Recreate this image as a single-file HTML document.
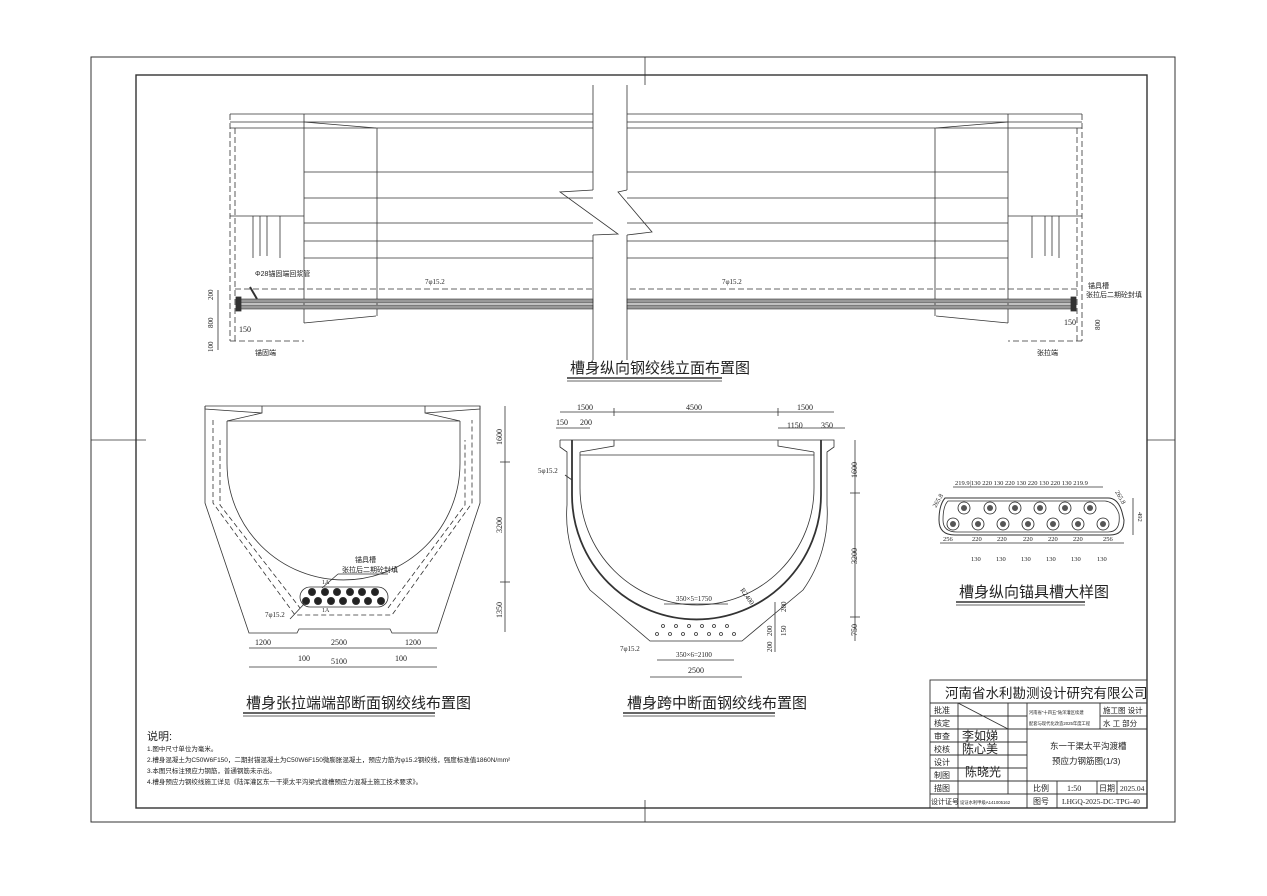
<!DOCTYPE html>
<html><head><meta charset="utf-8"><style>
html,body{margin:0;padding:0;background:#fff;}
svg{display:block;}
text{font-family:"Liberation Serif","Noto Serif CJK SC","Noto Sans CJK SC",serif;fill:#222;stroke:none;}
.c{font-family:"Liberation Sans","Noto Sans CJK SC",sans-serif;}
</style></head><body>
<svg width="1267" height="896" viewBox="0 0 1267 896" xmlns="http://www.w3.org/2000/svg" stroke="#333" fill="none" stroke-width="0.8">
<rect x="0" y="0" width="1267" height="896" fill="#fff" stroke="none"/>
<rect x="91" y="57" width="1084" height="765" stroke-width="1"/>
<rect x="136" y="75" width="1011" height="733" stroke-width="1.4"/>
<line x1="645" y1="57" x2="645" y2="85"/><line x1="645" y1="800" x2="645" y2="822"/>
<line x1="91" y1="440" x2="146" y2="440"/><line x1="1147" y1="440" x2="1175" y2="440"/>

<g>
<line x1="230" y1="114" x2="593" y2="114"/><line x1="230" y1="122" x2="593" y2="122"/><line x1="230" y1="128" x2="593" y2="128"/>
<line x1="230" y1="114" x2="230" y2="341" stroke-dasharray="6,3"/>
<line x1="235" y1="128" x2="235" y2="341" stroke-dasharray="6,3"/>
<line x1="304" y1="114" x2="304" y2="323"/>
<line x1="304" y1="122" x2="376" y2="128"/>
<line x1="377" y1="128" x2="377" y2="316"/>
<line x1="304" y1="172" x2="593" y2="172"/><line x1="304" y1="198" x2="593" y2="198"/><line x1="304" y1="223" x2="593" y2="223"/><line x1="304" y1="241" x2="593" y2="241"/><line x1="304" y1="258" x2="593" y2="258"/>
<line x1="230" y1="216" x2="304" y2="216"/>
<line x1="253" y1="216" x2="253" y2="258"/><line x1="260" y1="216" x2="260" y2="256"/><line x1="267" y1="216" x2="267" y2="256"/><line x1="280" y1="216" x2="280" y2="258"/>
<line x1="235" y1="289" x2="593" y2="289" stroke-dasharray="6,3"/>
<rect x="237" y="299" width="356" height="4" fill="#999" stroke-width="0.6"/>
<rect x="237" y="305" width="356" height="4" fill="#999" stroke-width="0.6"/>
<rect x="236" y="297" width="5" height="14" fill="#333"/>
<line x1="304" y1="323" x2="376" y2="316"/>
<line x1="230" y1="341" x2="304" y2="341" stroke-dasharray="6,3"/>
<line x1="250" y1="287" x2="257" y2="299" stroke-width="2"/>
<line x1="218" y1="290" x2="218" y2="350"/>
<text x="213" y="300" font-size="7" transform="rotate(-90 213 300)">200</text>
<text x="213" y="328" font-size="7" transform="rotate(-90 213 328)">800</text>
<text x="213" y="352" font-size="7" transform="rotate(-90 213 352)">100</text>
<text x="239" y="332" font-size="8">150</text>
<text x="255" y="276" font-size="7" class="c">Φ28锚固端回浆管</text>
<text x="425" y="284" font-size="7">7φ15.2</text>
<text x="255" y="355" font-size="7" class="c">锚固端</text>
<line x1="593" y1="85" x2="593" y2="190"/><line x1="593" y1="235" x2="593" y2="360"/>
<polyline points="593,190 560,192 618,234 593,235"/>
</g>
<g transform="translate(1312,0) scale(-1,1)">
<line x1="230" y1="114" x2="685" y2="114"/><line x1="230" y1="122" x2="685" y2="122"/><line x1="230" y1="128" x2="685" y2="128"/>
<line x1="230" y1="114" x2="230" y2="341" stroke-dasharray="6,3"/>
<line x1="235" y1="128" x2="235" y2="341" stroke-dasharray="6,3"/>
<line x1="304" y1="114" x2="304" y2="323"/>
<line x1="304" y1="122" x2="376" y2="128"/>
<line x1="377" y1="128" x2="377" y2="316"/>
<line x1="304" y1="172" x2="685" y2="172"/><line x1="304" y1="198" x2="685" y2="198"/><line x1="304" y1="223" x2="685" y2="223"/><line x1="304" y1="241" x2="685" y2="241"/><line x1="304" y1="258" x2="685" y2="258"/>
<line x1="230" y1="216" x2="304" y2="216"/>
<line x1="253" y1="216" x2="253" y2="258"/><line x1="260" y1="216" x2="260" y2="256"/><line x1="267" y1="216" x2="267" y2="256"/><line x1="280" y1="216" x2="280" y2="258"/>
<line x1="235" y1="289" x2="685" y2="289" stroke-dasharray="6,3"/>
<rect x="237" y="299" width="448" height="4" fill="#999" stroke-width="0.6"/>
<rect x="237" y="305" width="448" height="4" fill="#999" stroke-width="0.6"/>
<rect x="236" y="297" width="5" height="14" fill="#333"/>
<line x1="304" y1="323" x2="376" y2="316"/>
<line x1="230" y1="341" x2="304" y2="341" stroke-dasharray="6,3"/>
</g>
<line x1="627" y1="85" x2="627" y2="190"/><line x1="627" y1="235" x2="627" y2="360"/>
<polyline points="627,190 618,192 652,232 627,235"/>
<text x="722" y="284" font-size="7">7φ15.2</text>
<text x="1088" y="288" font-size="7" class="c">锚具槽</text>
<text x="1086" y="297" font-size="7" class="c">张拉后二期砼封填</text>
<text x="1064" y="325" font-size="8">150</text>
<text x="1100" y="330" font-size="7" transform="rotate(-90 1100 330)">800</text>
<text x="1037" y="355" font-size="7" class="c">张拉端</text>
<text x="570" y="373" font-size="15" class="c">槽身纵向钢绞线立面布置图</text>
<line x1="567" y1="378" x2="722" y2="378" stroke-width="1.4"/><line x1="567" y1="381" x2="722" y2="381"/>

<g>
<polyline points="205,406 480,406 480,503 437,633 392,633 390,629 299,629 297,633 249,633 205,503 205,406"/>
<polyline points="205,406 205,409 262,413 262,406"/>
<polyline points="480,406 480,409 425,413 425,406"/>
<line x1="262" y1="413" x2="227" y2="421"/><line x1="425" y1="413" x2="460" y2="421"/>
<line x1="227" y1="421" x2="460" y2="421"/>
<path d="M227,421 L227,463.5 A116.5,116.5 0 0 0 460,463.5 L460,421"/>
<path d="M213,420 L213,503 L295,615 L392,615 L472,503 L472,420" stroke-dasharray="5,3"/>
<path d="M220,440 L220,505 L300,608 M388,608 L465,505 L465,440" stroke-dasharray="5,3"/>
<rect x="300" y="587" width="88" height="20" rx="10"/>
<g fill="#222">
<circle cx="312" cy="592" r="3.6"/><circle cx="325" cy="592" r="3.6"/><circle cx="337" cy="592" r="3.6"/><circle cx="350" cy="592" r="3.6"/><circle cx="362" cy="592" r="3.6"/><circle cx="375" cy="592" r="3.6"/>
<circle cx="306" cy="601" r="3.6"/><circle cx="318" cy="601" r="3.6"/><circle cx="331" cy="601" r="3.6"/><circle cx="343" cy="601" r="3.6"/><circle cx="356" cy="601" r="3.6"/><circle cx="368" cy="601" r="3.6"/><circle cx="381" cy="601" r="3.6"/>
</g>
<text x="355" y="562" font-size="7" class="c">锚具槽</text>
<text x="342" y="572" font-size="7" class="c">张拉后二期砼封填</text>
<line x1="338" y1="574" x2="388" y2="574"/><line x1="338" y1="574" x2="322" y2="588"/>
<text x="322" y="584" font-size="6">1A</text><text x="322" y="612" font-size="6">1A</text>
<text x="265" y="617" font-size="7">7φ15.2</text>
<line x1="290" y1="619" x2="305" y2="603"/>
<line x1="505" y1="406" x2="505" y2="632"/>
<line x1="500" y1="462" x2="510" y2="462"/><line x1="500" y1="582" x2="510" y2="582"/>
<text x="502" y="445" font-size="8" transform="rotate(-90 502 445)">1600</text>
<text x="502" y="533" font-size="8" transform="rotate(-90 502 533)">3200</text>
<text x="502" y="618" font-size="8" transform="rotate(-90 502 618)">1350</text>
<line x1="249" y1="648" x2="437" y2="648"/>
<line x1="249" y1="667" x2="437" y2="667"/>
<text x="255" y="645" font-size="8">1200</text><text x="331" y="645" font-size="8">2500</text><text x="405" y="645" font-size="8">1200</text>
<text x="298" y="661" font-size="8">100</text><text x="395" y="661" font-size="8">100</text>
<text x="331" y="664" font-size="8">5100</text>
<text x="246" y="708" font-size="15" class="c">槽身张拉端端部断面钢绞线布置图</text>
<line x1="243" y1="713" x2="435" y2="713" stroke-width="1.4"/><line x1="243" y1="716" x2="435" y2="716"/>
</g>

<g>
<polyline points="560,440 834,440 834,447 827,452 827,505"/>
<polyline points="560,440 560,447 567,452 567,505"/>
<path d="M567,505 A132,132 0 0 0 590,590 L650,641 L742,641 L803,590 A132,132 0 0 0 827,505"/>
<line x1="580" y1="455" x2="814" y2="455"/>
<polyline points="614,440 614,446 580,452"/>
<polyline points="778,440 778,446 814,452"/>
<path d="M580,452 L580,488 A117,117 0 0 0 814,488 L814,452"/>
<path d="M572,440 L572,495 A124.5,124.5 0 0 0 821,495 L821,440" stroke-width="1.8"/>
<g>
<circle cx="663" cy="626" r="1.5"/><circle cx="676" cy="626" r="1.5"/><circle cx="689" cy="626" r="1.5"/><circle cx="702" cy="626" r="1.5"/><circle cx="714" cy="626" r="1.5"/><circle cx="727" cy="626" r="1.5"/>
<circle cx="657" cy="634" r="1.5"/><circle cx="670" cy="634" r="1.5"/><circle cx="683" cy="634" r="1.5"/><circle cx="696" cy="634" r="1.5"/><circle cx="709" cy="634" r="1.5"/><circle cx="721" cy="634" r="1.5"/><circle cx="734" cy="634" r="1.5"/>
</g>
<line x1="560" y1="412" x2="834" y2="412"/><line x1="614" y1="408" x2="614" y2="416"/><line x1="778" y1="408" x2="778" y2="416"/>
<text x="577" y="410" font-size="8">1500</text><text x="686" y="410" font-size="8">4500</text><text x="797" y="410" font-size="8">1500</text>
<line x1="556" y1="428" x2="590" y2="428"/><line x1="778" y1="428" x2="845" y2="428"/>
<text x="556" y="425" font-size="8">150</text><text x="580" y="425" font-size="8">200</text>
<text x="787" y="428" font-size="8">1150</text><text x="821" y="428" font-size="8">350</text>
<line x1="855" y1="440" x2="855" y2="641"/><line x1="850" y1="493" x2="860" y2="493"/><line x1="850" y1="617" x2="860" y2="617"/>
<text x="857" y="478" font-size="8" transform="rotate(-90 857 478)">1600</text>
<text x="857" y="564" font-size="8" transform="rotate(-90 857 564)">3200</text>
<text x="857" y="636" font-size="8" transform="rotate(-90 857 636)">750</text>
<text x="538" y="473" font-size="7">5φ15.2</text>
<line x1="565" y1="475" x2="572" y2="480"/>
<text x="740" y="590" font-size="7" transform="rotate(55 740 590)">R2400</text>
<line x1="664" y1="604" x2="728" y2="604"/>
<text x="676" y="601" font-size="7">350×5=1750</text>
<text x="620" y="651" font-size="7">7φ15.2</text>
<line x1="657" y1="660" x2="734" y2="660"/>
<text x="676" y="657" font-size="7">350×6=2100</text>
<line x1="650" y1="677" x2="742" y2="677"/>
<text x="688" y="673" font-size="8">2500</text>
<text x="786" y="612" font-size="7" transform="rotate(-90 786 612)">200</text>
<text x="786" y="636" font-size="7" transform="rotate(-90 786 636)">150</text>
<text x="772" y="636" font-size="7" transform="rotate(-90 772 636)">200</text>
<text x="772" y="652" font-size="7" transform="rotate(-90 772 652)">200</text>
<line x1="775" y1="602" x2="775" y2="652"/>
<text x="627" y="708" font-size="15" class="c">槽身跨中断面钢绞线布置图</text>
<line x1="623" y1="713" x2="775" y2="713" stroke-width="1.4"/><line x1="623" y1="716" x2="775" y2="716"/>
</g>

<g>
<path d="M945,498 L1108,498 Q1118,498 1122,512 L1124,520 Q1124,535 1110,535 L955,535 Q939,535 939,520 Q939,505 945,498 Z" stroke-width="1"/>
<path d="M948,501 L1105,501 Q1115,502 1119,514 Q1121,532 1108,532 L957,532 Q943,532 943,520 Q943,506 948,501 Z"/>
<g stroke="#222" fill="#fff">
<circle cx="964" cy="508" r="6"/><circle cx="990" cy="508" r="6"/><circle cx="1015" cy="508" r="6"/><circle cx="1040" cy="508" r="6"/><circle cx="1065" cy="508" r="6"/><circle cx="1090" cy="508" r="6"/>
<circle cx="953" cy="524" r="6"/><circle cx="978" cy="524" r="6"/><circle cx="1003" cy="524" r="6"/><circle cx="1028" cy="524" r="6"/><circle cx="1053" cy="524" r="6"/><circle cx="1078" cy="524" r="6"/><circle cx="1103" cy="524" r="6"/>
</g>
<g fill="#555" stroke="none">
<circle cx="964" cy="508" r="3"/><circle cx="990" cy="508" r="3"/><circle cx="1015" cy="508" r="3"/><circle cx="1040" cy="508" r="3"/><circle cx="1065" cy="508" r="3"/><circle cx="1090" cy="508" r="3"/>
<circle cx="953" cy="524" r="3"/><circle cx="978" cy="524" r="3"/><circle cx="1003" cy="524" r="3"/><circle cx="1028" cy="524" r="3"/><circle cx="1053" cy="524" r="3"/><circle cx="1078" cy="524" r="3"/><circle cx="1103" cy="524" r="3"/>
</g>
<line x1="953" y1="487" x2="1103" y2="487"/>
<text x="955" y="485" font-size="6.5">219.9|130 220 130 220 130 220 130 220 130 219.9</text>
<line x1="940" y1="543" x2="1124" y2="543"/>
<text x="943" y="541" font-size="6.5">256</text><text x="972" y="541" font-size="6.5">220</text><text x="997" y="541" font-size="6.5">220</text><text x="1023" y="541" font-size="6.5">220</text><text x="1048" y="541" font-size="6.5">220</text><text x="1073" y="541" font-size="6.5">220</text><text x="1103" y="541" font-size="6.5">256</text>
<text x="971" y="561" font-size="6.5">130</text><text x="996" y="561" font-size="6.5">130</text><text x="1021" y="561" font-size="6.5">130</text><text x="1046" y="561" font-size="6.5">130</text><text x="1071" y="561" font-size="6.5">130</text><text x="1097" y="561" font-size="6.5">130</text>
<line x1="1133" y1="498" x2="1133" y2="535"/>
<text x="1138" y="512" font-size="6.5" transform="rotate(90 1138 512)">492</text>
<text x="936" y="508" font-size="6.5" transform="rotate(-60 936 508)">265.8</text>
<text x="1115" y="492" font-size="6.5" transform="rotate(60 1115 492)">265.8</text>
<text x="959" y="597" font-size="15" class="c">槽身纵向锚具槽大样图</text>
<line x1="956" y1="602" x2="1085" y2="602" stroke-width="1.4"/><line x1="956" y1="605" x2="1085" y2="605"/>
</g>

<g>
<text x="147" y="740" font-size="11" class="c">说明:</text>
<text x="147" y="751" font-size="6.5" class="c">1.图中尺寸单位为毫米。</text>
<text x="147" y="762" font-size="6.5" class="c">2.槽身混凝土为C50W6F150，二期封锚混凝土为C50W6F150微膨胀混凝土，预应力筋为φ15.2钢绞线，强度标准值1860N/mm²</text>
<text x="147" y="773" font-size="6.5" class="c">3.本图只标注预应力钢筋，普通钢筋未示出。</text>
<text x="147" y="784" font-size="6.5" class="c">4.槽身预应力钢绞线施工详见《陆浑灌区东一干渠太平沟梁式渡槽预应力混凝土施工技术要求》。</text>
</g>

<g stroke-width="0.9">
<rect x="930" y="680" width="217" height="128"/>
<line x1="930" y1="703" x2="1147" y2="703"/>
<line x1="930" y1="716" x2="1027" y2="716"/><line x1="930" y1="729" x2="1147" y2="729"/>
<line x1="930" y1="742" x2="1027" y2="742"/><line x1="930" y1="755" x2="1027" y2="755"/>
<line x1="930" y1="768" x2="1027" y2="768"/><line x1="930" y1="781" x2="1147" y2="781"/>
<line x1="930" y1="794" x2="1147" y2="794"/>
<line x1="958" y1="703" x2="958" y2="808"/>
<line x1="1008" y1="703" x2="1008" y2="794"/>
<line x1="1027" y1="703" x2="1027" y2="808"/>
<line x1="1100" y1="703" x2="1100" y2="729"/>
<line x1="1100" y1="716" x2="1147" y2="716"/>
<line x1="1057" y1="781" x2="1057" y2="808"/>
<line x1="1097" y1="781" x2="1097" y2="794"/><line x1="1117" y1="781" x2="1117" y2="794"/>
<line x1="958" y1="703" x2="1008" y2="729"/>
</g>
<g>
<text x="945" y="698" font-size="13.5" class="c">河南省水利勘测设计研究有限公司</text>
<text x="934" y="713" font-size="8" class="c">批准</text><text x="934" y="726" font-size="8" class="c">核定</text><text x="934" y="739" font-size="8" class="c">审查</text><text x="934" y="752" font-size="8" class="c">校核</text><text x="934" y="765" font-size="8" class="c">设计</text><text x="934" y="778" font-size="8" class="c">制图</text><text x="934" y="791" font-size="8" class="c">描图</text>
<text x="931" y="804" font-size="7" class="c">设计证号</text>
<text x="960" y="804" font-size="4.3" class="c">设证水利甲级A141005162</text>
<text x="1029" y="714" font-size="4.3" class="c">河南省"十四五"陆浑灌区续建</text>
<text x="1029" y="725" font-size="4.3" class="c">配套与现代化改造2025年度工程</text>
<text x="1103" y="713" font-size="7.5" class="c">施工图  设计</text>
<text x="1103" y="726" font-size="7.5" class="c">水 工  部分</text>
<text x="1050" y="749" font-size="8.5" class="c">东一干渠太平沟渡槽</text>
<text x="1052" y="764" font-size="8.5" class="c">预应力钢筋图(1/3)</text>
<text x="1033" y="791" font-size="8" class="c">比例</text><text x="1067" y="791" font-size="8">1:50</text>
<text x="1099" y="791" font-size="8" class="c">日期</text><text x="1120" y="791" font-size="7.5">2025.04</text>
<text x="1033" y="804" font-size="8" class="c">图号</text><text x="1062" y="804" font-size="7.5">LHGQ-2025-DC-TPG-40</text>
<text x="962" y="740" font-size="12" class="c">李如娣</text>
<text x="962" y="753" font-size="12" class="c">陈心美</text>
<text x="965" y="776" font-size="12" class="c">陈晓光</text>
</g>
</svg>
</body></html>
